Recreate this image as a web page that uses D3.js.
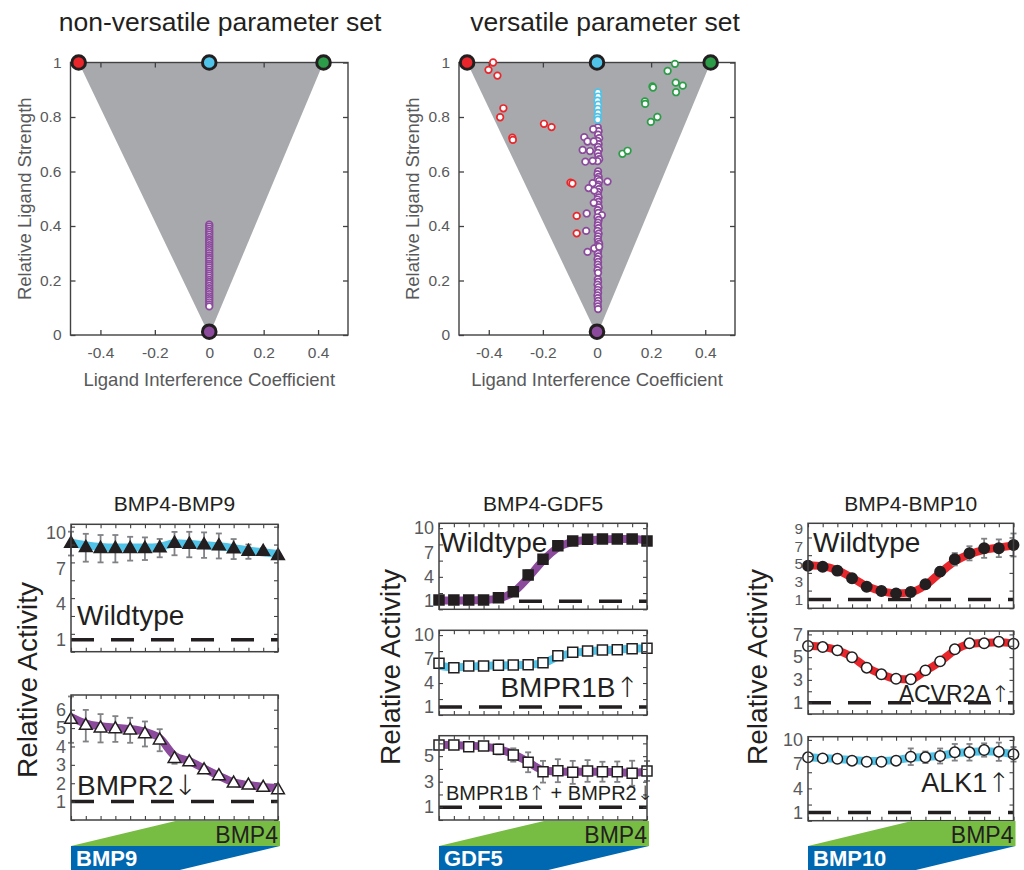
<!DOCTYPE html>
<html>
<head>
<meta charset="utf-8">
<script src="https://cdn.jsdelivr.net/npm/d3@7"></script>
<style>
  body { margin: 0; background: #fff; }
  svg { display: block; }
  text { font-family: "Liberation Sans", Arial, Helvetica, sans-serif; }
  tspan.arrow { font-family: "DejaVu Sans", sans-serif; font-weight: 200; }
</style>
</head>
<body>
<svg width="1024" height="870"></svg>
<script>
// ---------- parameter-space scatter data ----------
const interferenceTicks = [-0.4, -0.2, 0, 0.2, 0.4];
const strengthTicks = [0, 0.2, 0.4, 0.6, 0.8, 1];

// corner ligand archetypes: [interference, strength]
const archetypeRed = [-0.48, 1];
const archetypeCyan = [0, 1];
const archetypeGreen = [0.42, 1];
const archetypePurple = [0, 0.012];
const feasibleRegion = [[-0.48, 1], [0.42, 1], [0, 0]];

const nonVersatileStrength = [0.405, 0.398, 0.39, 0.382, 0.375, 0.368, 0.36, 0.352, 0.345, 0.338, 0.33, 0.322,
  0.315, 0.308, 0.30, 0.292, 0.285, 0.278, 0.27, 0.262, 0.255, 0.248, 0.24, 0.232, 0.225, 0.218, 0.21,
  0.202, 0.195, 0.188, 0.18, 0.172, 0.165, 0.158, 0.15, 0.142, 0.135, 0.128, 0.12, 0.112, 0.105];

const versatileRed = [[-0.384, 1.0], [-0.401, 0.973], [-0.368, 0.952], [-0.346, 0.832], [-0.358, 0.799],
  [-0.313, 0.724], [-0.311, 0.716], [-0.196, 0.775], [-0.168, 0.763], [-0.098, 0.559], [-0.091, 0.556],
  [-0.075, 0.437], [-0.075, 0.373]];
const versatileGreen = [[0.288, 0.995], [0.261, 0.969], [0.291, 0.926], [0.317, 0.915], [0.292, 0.891],
  [0.205, 0.912], [0.207, 0.908], [0.177, 0.857], [0.178, 0.848], [0.199, 0.782], [0.223, 0.80],
  [0.094, 0.665], [0.113, 0.676]];
const versatileCyan = [[0.003, 0.89], [0.004, 0.875], [0.002, 0.86], [0.004, 0.845], [0.003, 0.83],
  [0.004, 0.815], [0.002, 0.80], [0.003, 0.79]];
const versatilePurple = [
  [0.003, 0.762], [0.006, 0.748], [0.004, 0.735], [0.008, 0.722], [0.002, 0.712], [0.006, 0.70], [0.004, 0.69],
  [0.007, 0.68], [0.003, 0.668], [0.005, 0.655], [0.008, 0.645], [0.002, 0.638],
  [0.004, 0.600], [0.002, 0.590], [0.006, 0.580], [0.003, 0.572], [0.008, 0.565], [0.005, 0.552], [0.002, 0.545],
  [0.007, 0.535], [0.004, 0.525], [0.003, 0.515], [0.006, 0.505], [0.002, 0.497], [0.005, 0.488], [0.004, 0.478],
  [0.007, 0.468], [0.003, 0.458], [0.005, 0.448], [0.018, 0.440], [0.002, 0.432], [0.006, 0.422], [0.004, 0.412],
  [0.003, 0.402], [0.005, 0.392], [0.002, 0.382], [0.006, 0.372], [0.004, 0.362], [0.003, 0.352], [0.005, 0.342],
  [0.008, 0.334], [0.002, 0.326], [0.006, 0.318], [0.004, 0.308], [0.003, 0.298], [0.005, 0.288], [0.002, 0.278],
  [0.004, 0.268], [0.003, 0.258], [0.005, 0.248], [0.002, 0.238], [0.004, 0.228],
  [0.003, 0.205], [0.004, 0.195], [0.002, 0.185], [0.005, 0.175], [0.003, 0.165], [0.004, 0.155], [0.002, 0.145],
  [0.003, 0.135], [0.004, 0.125], [0.002, 0.115], [0.003, 0.105], [0.004, 0.095],
  [-0.014, 0.755], [-0.047, 0.726], [-0.035, 0.71], [-0.012, 0.71], [-0.053, 0.679], [-0.026, 0.675],
  [-0.043, 0.636], [-0.016, 0.639], [0.039, 0.563], [-0.016, 0.557], [-0.031, 0.539], [-0.01, 0.53],
  [-0.012, 0.485], [-0.038, 0.446], [-0.04, 0.382], [-0.035, 0.305], [-0.01, 0.318], [0.008, 0.324]];

// ---------- dose-response data (ligand ratio steps) ----------
const doseSteps = [1, 2, 3, 4, 5, 6, 7, 8, 9, 10, 11, 12, 13, 14, 15];

const bmp9Wildtype = [9.08, 8.73, 8.65, 8.65, 8.65, 8.65, 8.7, 9.08, 9.0, 8.95, 8.88, 8.62, 8.4, 8.4, 8.06];
const bmp9WildtypeErr = [1.0, 1.17, 1.15, 1.15, 1.0, 0.95, 0.77, 0.98, 1.07, 1.07, 1.05, 0.84, 0.6, 0.3, 0.15];
const bmp9WildtypeModel = [9.15, 8.95, 8.8, 8.75, 8.75, 8.75, 8.8, 9.1, 9.05, 8.95, 8.85, 8.7, 8.5, 8.35, 8.2];

const bmp9Bmpr2Down = [5.46, 5.13, 4.99, 4.95, 4.88, 4.68, 4.34, 3.33, 3.15, 2.71, 2.39, 1.99, 1.88, 1.76, 1.63];
const bmp9Bmpr2DownErr = [1.26, 0.86, 0.77, 0.7, 0.68, 0.68, 0.6, 0.27, 0.15, 0.1, 0.1, 0.08, 0.08, 0.05, 0.05];
const bmp9Bmpr2DownModel = [5.6, 5.25, 5.1, 5.02, 4.95, 4.8, 4.45, 3.5, 3.2, 2.8, 2.4, 2.05, 1.9, 1.8, 1.75];

const gdf5Wildtype = [1.15, 1.15, 1.15, 1.15, 1.43, 2.17, 4.23, 6.16, 7.84, 8.42, 8.63, 8.67, 8.67, 8.67, 8.42];
const gdf5WildtypeErr = [0.1, 0.1, 0.1, 0.1, 0.15, 0.3, 0.6, 0.4, 0.2, 0.15, 0.1, 0.1, 0.1, 0.1, 0.1];
const gdf5WildtypeModel = [1.1, 1.1, 1.1, 1.15, 1.35, 2.1, 3.9, 6.0, 7.6, 8.3, 8.55, 8.6, 8.65, 8.65, 8.5];

const gdf5Bmpr1bUp = [6.47, 5.92, 6.13, 6.13, 6.22, 6.26, 6.3, 6.55, 7.42, 7.85, 8.01, 8.14, 8.17, 8.3, 8.35];
const gdf5Bmpr1bUpErr = [0.1, 0.1, 0.1, 0.1, 0.1, 0.1, 0.1, 0.15, 0.2, 0.2, 0.2, 0.3, 0.5, 0.5, 0.3];
const gdf5Bmpr1bUpModel = [6.2, 5.95, 6.05, 6.15, 6.2, 6.25, 6.3, 6.5, 7.3, 7.75, 7.95, 8.1, 8.2, 8.3, 8.35];

const gdf5Combined = [5.87, 5.87, 5.74, 5.79, 5.53, 5.09, 4.52, 3.78, 3.86, 3.73, 3.84, 3.78, 3.78, 3.66, 3.84];
const gdf5CombinedErr = [0.1, 0.1, 0.1, 0.1, 0.4, 0.52, 0.78, 0.85, 0.9, 0.9, 0.85, 0.78, 0.8, 0.98, 0.78];
const gdf5CombinedModel = [5.9, 5.88, 5.82, 5.75, 5.55, 5.15, 4.55, 3.9, 3.8, 3.78, 3.78, 3.78, 3.75, 3.7, 3.8];

const bmp10Wildtype = [4.81, 4.7, 4.25, 3.39, 2.44, 1.95, 1.69, 1.84, 2.71, 4.14, 5.54, 6.21, 6.78, 6.78, 7.15];
const bmp10WildtypeErr = [0.3, 0.35, 0.2, 0.15, 0.15, 0.1, 0.1, 0.1, 0.2, 0.5, 0.7, 0.8, 1.08, 1.0, 1.3];
const bmp10WildtypeModel = [4.85, 4.75, 4.3, 3.45, 2.5, 1.95, 1.7, 1.8, 2.6, 4.0, 5.3, 6.1, 6.6, 6.85, 7.1];

const bmp10Acvr2aUp = [5.98, 5.89, 5.6, 4.99, 4.07, 3.49, 3.1, 3.05, 3.84, 4.63, 5.69, 6.22, 6.22, 6.36, 6.18];
const bmp10Acvr2aUpErr = [0.1, 0.1, 0.1, 0.1, 0.1, 0.1, 0.1, 0.1, 0.1, 0.1, 0.15, 0.15, 0.15, 0.15, 0.15];
const bmp10Acvr2aUpModel = [6.0, 5.9, 5.6, 5.0, 4.1, 3.5, 3.1, 3.05, 3.8, 4.6, 5.6, 6.15, 6.25, 6.3, 6.2];

const bmp10Alk1Up = [7.85, 7.72, 7.67, 7.43, 7.3, 7.3, 7.43, 7.92, 7.85, 8.01, 8.47, 8.47, 8.75, 8.54, 8.22];
const bmp10Alk1UpErr = [0.1, 0.1, 0.1, 0.1, 0.1, 0.1, 0.1, 1.03, 0.72, 0.93, 1.03, 1.03, 0.83, 1.13, 0.9];
const bmp10Alk1UpModel = [7.9, 7.75, 7.65, 7.5, 7.4, 7.4, 7.5, 7.8, 7.9, 8.05, 8.35, 8.5, 8.6, 8.5, 8.2];

// ---------- styling ----------
const INK = '#231f20';
const GREY_TXT = '#58595b';
const FRAME = '#414042';
const REGION_FILL = '#a7a9ac';
const RED = '#e8262b', CYAN = '#4fc3e8', GREEN = '#2c9c48', PURPLE = '#8b4a9c';
const ERR_GREY = '#808285';
const BAR_GREEN = '#77bc43', BAR_BLUE = '#0067b1';
const ARROWS = /([\u2191\u2193])/;

const svg = d3.select('svg');

// writes a label, setting arrow glyphs in a font that carries them
function richText(sel, str) {
  str.split(ARROWS).filter(s => s.length).forEach(part => {
    const t = sel.append('tspan').text(part);
    if (ARROWS.test(part)) t.attr('class', 'arrow');
  });
  return sel;
}

// ---------- parameter-space scatter panels ----------
function scatterPanel(box, title, titleX, sets) {
  const x = d3.scaleLinear().domain([-0.51, 0.51]).range([box.left, box.right]);
  const y = d3.scaleLinear().domain([0, 1]).range([box.bottom, box.top]);
  const g = svg.append('g');

  g.append('path')
    .attr('d', d3.line().x(d => x(d[0])).y(d => y(d[1]))(feasibleRegion) + 'Z')
    .attr('fill', REGION_FILL);

  const fmt = d => String(d);
  const styleAxis = (sel) => {
    sel.select('.domain').remove();
    sel.selectAll('.tick line').attr('stroke', FRAME).attr('stroke-width', 1.3);
    sel.selectAll('.tick text').attr('fill', GREY_TXT).style('font-size', '15.5px')
      .style('font-family', '"Liberation Sans", Arial, sans-serif');
  };
  g.append('g').attr('transform', `translate(0,${box.bottom})`)
    .call(d3.axisBottom(x).tickValues(interferenceTicks).tickSize(-5).tickPadding(12).tickFormat(fmt)).call(styleAxis);
  g.append('g').attr('transform', `translate(0,${box.top})`)
    .call(d3.axisTop(x).tickValues(interferenceTicks).tickSize(-5).tickFormat('')).call(styleAxis);
  g.append('g').attr('transform', `translate(${box.left},0)`)
    .call(d3.axisLeft(y).tickValues(strengthTicks).tickSize(-5).tickPadding(9).tickFormat(fmt)).call(styleAxis);
  g.append('g').attr('transform', `translate(${box.right},0)`)
    .call(d3.axisRight(y).tickValues(strengthTicks).tickSize(-5).tickFormat('')).call(styleAxis);

  g.append('rect')
    .attr('x', box.left).attr('y', box.top)
    .attr('width', box.right - box.left).attr('height', box.bottom - box.top)
    .attr('fill', 'none').attr('stroke', FRAME).attr('stroke-width', 1.4);

  sets.forEach(s => {
    g.append('g').selectAll('circle').data(s.points).join('circle')
      .attr('cx', d => x(d[0])).attr('cy', d => y(d[1])).attr('r', 3.3)
      .attr('fill', '#fff').attr('stroke', s.color).attr('stroke-width', 1.7);
  });

  const archetypes = [[archetypeRed, RED], [archetypeCyan, CYAN], [archetypeGreen, GREEN], [archetypePurple, PURPLE]];
  g.append('g').selectAll('circle').data(archetypes).join('circle')
    .attr('cx', d => x(d[0][0])).attr('cy', d => y(d[0][1])).attr('r', 6.8)
    .attr('fill', d => d[1]).attr('stroke', INK).attr('stroke-width', 3);

  svg.append('text').attr('x', titleX).attr('y', 31).attr('text-anchor', 'middle')
    .attr('fill', INK).style('font-size', '26.5px').text(title);
  svg.append('text').attr('x', (box.left + box.right) / 2).attr('y', 386).attr('text-anchor', 'middle')
    .attr('fill', GREY_TXT).style('font-size', '18.5px').text('Ligand Interference Coefficient');
  svg.append('text').attr('transform', `translate(${box.left - 46},${(box.top + box.bottom) / 2}) rotate(-90)`)
    .attr('text-anchor', 'middle').attr('dy', '0.35em')
    .attr('fill', GREY_TXT).style('font-size', '18.5px').text('Relative Ligand Strength');
}

scatterPanel({ left: 70.5, right: 348, top: 62.5, bottom: 335 }, 'non-versatile parameter set', 220, [
  { color: PURPLE, points: nonVersatileStrength.map(v => [0, v]) }
]);
scatterPanel({ left: 459, right: 735, top: 62.5, bottom: 335 }, 'versatile parameter set', 605, [
  { color: PURPLE, points: versatilePurple },
  { color: CYAN, points: versatileCyan },
  { color: GREEN, points: versatileGreen },
  { color: RED, points: versatileRed }
]);

// ---------- dose-response panels ----------
function activityPanel(p) {
  const right = p.left + p.width, bottom = p.top + p.height;
  const x = d3.scaleLinear().domain([1, 15]).range([p.left, right]);
  const y = d3.scaleLinear().domain([0, p.yMax]).range([bottom, p.top]);
  const g = svg.append('g');

  // reference level (activity = 1)
  g.append('line').attr('x1', p.left).attr('x2', right).attr('y1', y(1)).attr('y2', y(1))
    .attr('stroke', INK).attr('stroke-width', 3.5).attr('stroke-dasharray', '23,17');

  // model fit
  g.append('path').datum(p.model)
    .attr('d', d3.line().x((d, i) => x(doseSteps[i])).y(d => y(d)).curve(d3.curveMonotoneX))
    .attr('fill', 'none').attr('stroke', p.band).attr('stroke-width', 8);

  // error bars
  const eb = g.append('g').attr('stroke', ERR_GREY).attr('stroke-width', 1.8);
  p.values.forEach((v, i) => {
    const e = p.errors[i];
    if (e < 0.2) return;
    const cx = x(doseSteps[i]);
    eb.append('line').attr('x1', cx).attr('x2', cx).attr('y1', y(v - e)).attr('y2', y(v + e));
    eb.append('line').attr('x1', cx - 3).attr('x2', cx + 3).attr('y1', y(v - e)).attr('y2', y(v - e));
    eb.append('line').attr('x1', cx - 3).attr('x2', cx + 3).attr('y1', y(v + e)).attr('y2', y(v + e));
  });

  // measurements
  g.append('g').selectAll('path').data(p.values).join('path')
    .attr('transform', (d, i) => `translate(${x(doseSteps[i])},${y(d)})`)
    .attr('d', d3.symbol(p.symbol, p.size))
    .attr('fill', p.filled ? INK : '#fff').attr('stroke', INK).attr('stroke-width', 1.5);

  // ticks
  const styleAxis = (sel) => {
    sel.select('.domain').remove();
    sel.selectAll('.tick line').attr('stroke', FRAME).attr('stroke-width', 1.1);
  };
  g.append('g').attr('transform', `translate(0,${bottom})`)
    .call(d3.axisBottom(x).tickValues(doseSteps).tickSize(-4).tickFormat('')).call(styleAxis);
  g.append('g').attr('transform', `translate(0,${p.top})`)
    .call(d3.axisTop(x).tickValues(doseSteps).tickSize(-4).tickFormat('')).call(styleAxis);
  const minor = d3.range(0, p.yMax, p.minorStep);
  g.append('g').attr('transform', `translate(${p.left},0)`)
    .call(d3.axisLeft(y).tickValues(minor).tickSize(-4).tickFormat('')).call(styleAxis);
  g.append('g').attr('transform', `translate(${right},0)`)
    .call(d3.axisRight(y).tickValues(minor).tickSize(-4).tickFormat('')).call(styleAxis);

  const lab = g.append('g').attr('transform', `translate(${p.left},0)`)
    .call(d3.axisLeft(y).tickValues(p.yTicks).tickSize(0).tickPadding(5).tickFormat(d => String(d)));
  lab.select('.domain').remove();
  lab.selectAll('.tick text').attr('fill', GREY_TXT).style('font-size', (p.tickFont || 18) + 'px')
    .style('font-family', '"Liberation Sans", Arial, sans-serif');

  g.append('rect').attr('x', p.left).attr('y', p.top).attr('width', p.width).attr('height', p.height)
    .attr('fill', 'none').attr('stroke', FRAME).attr('stroke-width', 1.5);

  richText(g.append('text').attr('x', p.labelX).attr('y', p.labelY).attr('text-anchor', p.labelAnchor)
    .attr('fill', INK).style('font-size', p.labelSize + 'px'), p.label);
}

function doseColumn(c) {
  svg.append('text').attr('x', c.left + c.width / 2).attr('y', 511).attr('text-anchor', 'middle')
    .attr('fill', INK).style('font-size', '21px').text(c.title);
  svg.append('text').attr('transform', `translate(${c.ylabelX},${c.ylabelY}) rotate(-90)`)
    .attr('text-anchor', 'middle').attr('dy', '0.35em')
    .attr('fill', INK).style('font-size', '28px').text('Relative Activity');
  c.panels.forEach(p => activityPanel(Object.assign({ left: c.left, width: c.width }, p)));

  // ligand ratio wedges
  const L = c.left, R = c.left + c.width + 2, M = c.left + (c.width + 2) / 2;
  const y0 = 821, y1 = 846, y2 = 871;
  svg.append('polygon').attr('points', [[L, y1], [M, y0], [R, y0], [R, y1]].join(' ')).attr('fill', BAR_GREEN);
  svg.append('polygon').attr('points', [[L, y1], [R, y1], [M, y2], [L, y2]].join(' ')).attr('fill', BAR_BLUE);
  svg.append('text').attr('x', R - 2).attr('y', 843).attr('text-anchor', 'end')
    .attr('fill', INK).style('font-size', '23px').text('BMP4');
  svg.append('text').attr('x', L + 5).attr('y', 866).attr('fill', '#fff')
    .style('font-size', '22px').style('font-weight', 'bold').text(c.partner);
}

doseColumn({
  title: 'BMP4-BMP9', partner: 'BMP9', left: 71, width: 207, ylabelX: 27, ylabelY: 680,
  panels: [
    { top: 524.3, height: 127.4, yMax: 10.7, yTicks: [1, 4, 7, 10], minorStep: 1.5,
      values: bmp9Wildtype, errors: bmp9WildtypeErr, model: bmp9WildtypeModel, band: CYAN,
      symbol: d3.symbolTriangle, size: 70, filled: true,
      label: 'Wildtype', labelX: 77, labelY: 625, labelAnchor: 'start', labelSize: 28 },
    { top: 695, height: 125, yMax: 6.8, yTicks: [1, 2, 3, 4, 5, 6], minorStep: 1,
      values: bmp9Bmpr2Down, errors: bmp9Bmpr2DownErr, model: bmp9Bmpr2DownModel, band: PURPLE,
      symbol: d3.symbolTriangle, size: 70, filled: false,
      label: 'BMPR2\u2193', labelX: 77, labelY: 795, labelAnchor: 'start', labelSize: 28 }
  ]
});

doseColumn({
  title: 'BMP4-GDF5', partner: 'GDF5', left: 439, width: 208, ylabelX: 390, ylabelY: 667,
  panels: [
    { top: 523.3, height: 86, yMax: 10.6, yTicks: [1, 4, 7, 10], minorStep: 2,
      values: gdf5Wildtype, errors: gdf5WildtypeErr, model: gdf5WildtypeModel, band: PURPLE,
      symbol: d3.symbolSquare, size: 100, filled: true,
      label: 'Wildtype', labelX: 440, labelY: 552, labelAnchor: 'start', labelSize: 28 },
    { top: 630.3, height: 84.7, yMax: 10.6, yTicks: [1, 4, 7, 10], minorStep: 2,
      values: gdf5Bmpr1bUp, errors: gdf5Bmpr1bUpErr, model: gdf5Bmpr1bUpModel, band: CYAN,
      symbol: d3.symbolSquare, size: 100, filled: false,
      label: 'BMPR1B\u2191', labelX: 639, labelY: 697, labelAnchor: 'end', labelSize: 28 },
    { top: 735.7, height: 84.3, yMax: 6.6, yTicks: [1, 3, 5], minorStep: 1,
      values: gdf5Combined, errors: gdf5CombinedErr, model: gdf5CombinedModel, band: PURPLE,
      symbol: d3.symbolSquare, size: 100, filled: false,
      label: 'BMPR1B\u2191 + BMPR2\u2193', labelX: 446, labelY: 800, labelAnchor: 'start', labelSize: 20 }
  ]
});

doseColumn({
  title: 'BMP4-BMP10', partner: 'BMP10', left: 808, width: 205.5, ylabelX: 757, ylabelY: 667,
  panels: [
    { top: 523.3, height: 85, yMax: 9.6, yTicks: [1, 3, 5, 7, 9], minorStep: 2, tickFont: 15.5,
      values: bmp10Wildtype, errors: bmp10WildtypeErr, model: bmp10WildtypeModel, band: RED,
      symbol: d3.symbolCircle, size: 85, filled: true,
      label: 'Wildtype', labelX: 813, labelY: 552, labelAnchor: 'start', labelSize: 28 },
    { top: 631, height: 83, yMax: 7.3, yTicks: [1, 3, 5, 7], minorStep: 1,
      values: bmp10Acvr2aUp, errors: bmp10Acvr2aUpErr, model: bmp10Acvr2aUpModel, band: RED,
      symbol: d3.symbolCircle, size: 85, filled: false,
      label: 'ACVR2A\u2191', labelX: 1010, labelY: 702, labelAnchor: 'end', labelSize: 23 },
    { top: 736.7, height: 84, yMax: 10.4, yTicks: [1, 4, 7, 10], minorStep: 2,
      values: bmp10Alk1Up, errors: bmp10Alk1UpErr, model: bmp10Alk1UpModel, band: CYAN,
      symbol: d3.symbolCircle, size: 85, filled: false,
      label: 'ALK1\u2191', labelX: 1010, labelY: 792, labelAnchor: 'end', labelSize: 27 }
  ]
});
</script>
</body>
</html>
